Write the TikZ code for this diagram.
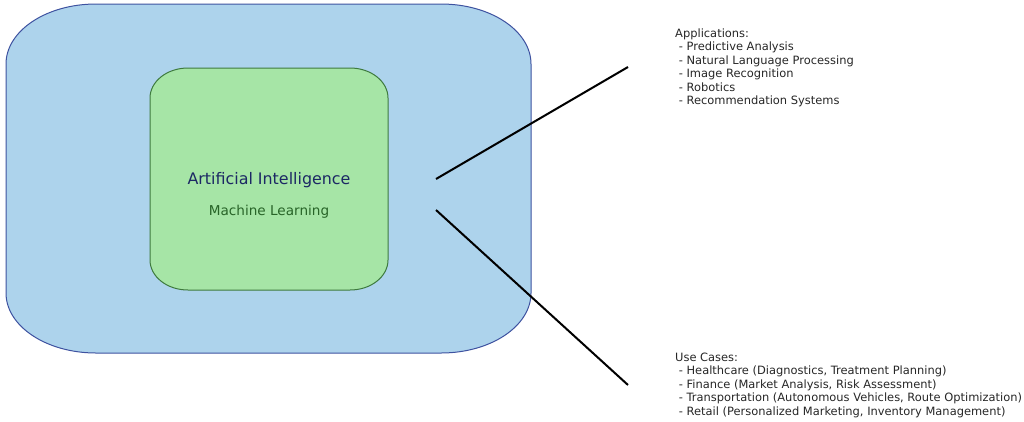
\documentclass[tikz,border=0pt]{standalone}
\usepackage{fontspec}
\setmainfont{DejaVu Sans}
\definecolor{bluefill}{RGB}{173,211,236}
\definecolor{blueedge}{RGB}{62,82,160}
\definecolor{greenfill}{RGB}{166,229,166}
\definecolor{greenedge}{RGB}{62,122,62}
\definecolor{aitext}{RGB}{28,40,100}
\definecolor{mltext}{RGB}{40,100,40}
\tikzset{
  outerbox/.style={fill=bluefill,draw=blueedge,line width=1pt},
  innerbox/.style={fill=greenfill,draw=greenedge,line width=1pt},
  listtext/.style={anchor=north west,align=left,inner sep=0pt,font=\fontsize{11.45}{13.45}\selectfont,text=black!85},
  connector/.style={line width=2pt,black}
}
\begin{document}
\begin{tikzpicture}[x=1pt,y=1pt]
\useasboundingbox (0,0) rectangle (1024,-421);
% outer box (Artificial Intelligence)
\path[outerbox] (96,-4) -- (441,-4)
  arc[start angle=90,end angle=0,x radius=90pt,y radius=60pt] -- (531,-293)
  arc[start angle=0,end angle=-90,x radius=90pt,y radius=60pt] -- (96,-353)
  arc[start angle=270,end angle=180,x radius=90pt,y radius=60pt] -- (6,-64)
  arc[start angle=180,end angle=90,x radius=90pt,y radius=60pt] -- cycle;
% inner box (Machine Learning)
\path[innerbox] (188,-68) -- (350,-68)
  arc[start angle=90,end angle=0,x radius=38pt,y radius=30pt] -- (388,-260)
  arc[start angle=0,end angle=-90,x radius=38pt,y radius=30pt] -- (188,-290)
  arc[start angle=270,end angle=180,x radius=38pt,y radius=30pt] -- (150,-98)
  arc[start angle=180,end angle=90,x radius=38pt,y radius=30pt] -- cycle;
\node[text=aitext,font=\fontsize{15.9}{19}\selectfont] (ai) at (269,-180) {Artificial Intelligence};
\node[text=mltext,font=\fontsize{13.6}{16}\selectfont] (ml) at (269,-212) {Machine Learning};
\node[listtext] (apps) at (675,-28.5) {Applications:\\
\ - Predictive Analysis\\
\ - Natural Language Processing\\
\ - Image Recognition\\
\ - Robotics\\
\ - Recommendation Systems};
\node[listtext] (uses) at (675,-352.5) {Use Cases:\\
\ - Healthcare (Diagnostics, Treatment Planning)\\
\ - Finance (Market Analysis, Risk Assessment)\\
\ - Transportation (Autonomous Vehicles, Route Optimization)\\
\ - Retail (Personalized Marketing, Inventory Management)};
\coordinate (c1s) at (436,-179);
\coordinate (c1e) at (628,-67);
\coordinate (c2s) at (436,-210);
\coordinate (c2e) at (628,-385);
\draw[connector] (c1s) -- (c1e);
\draw[connector] (c2s) -- (c2e);
\end{tikzpicture}
\end{document}
